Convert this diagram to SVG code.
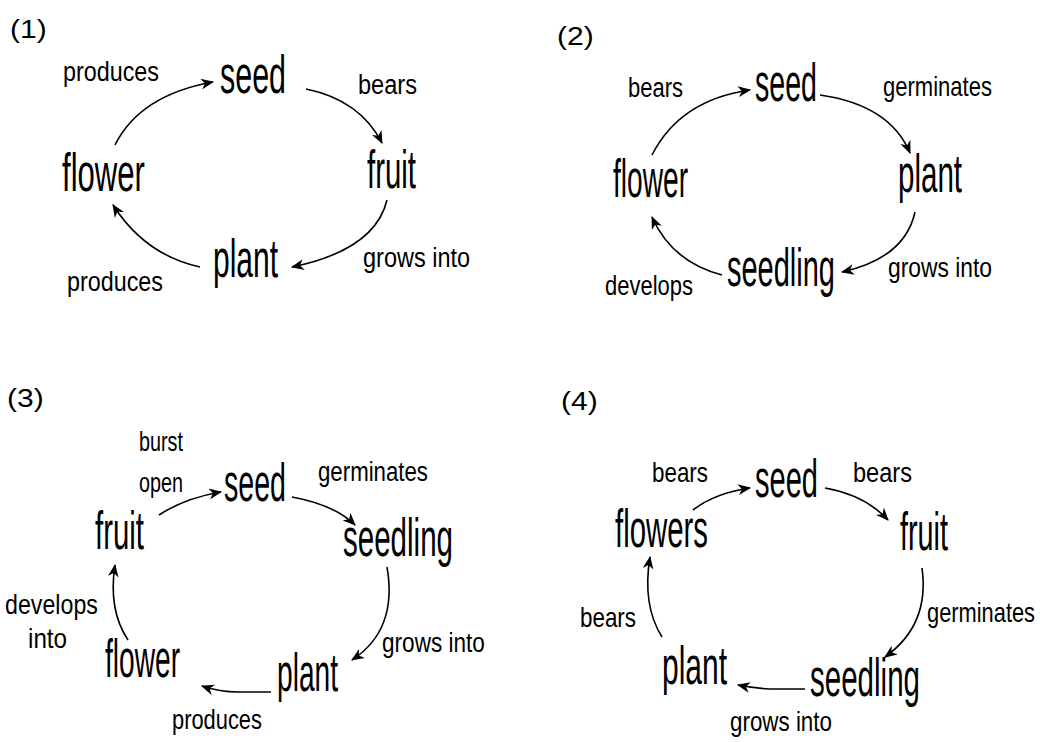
<svg xmlns="http://www.w3.org/2000/svg" width="1040" height="742" viewBox="0 0 1040 742">
<defs>
<marker id="ah" viewBox="0 0 12 10" refX="11" refY="5" markerWidth="13" markerHeight="11" markerUnits="userSpaceOnUse" orient="auto">
<path d="M0,0 L12,5 L0,10 L3.5,5 Z" fill="#000"/>
</marker>
<style>
.n{font-family:"Liberation Sans",Arial,sans-serif;font-size:54px;fill:#000}
.l{font-family:"Liberation Sans",Arial,sans-serif;font-size:27px;fill:#000}
.h{font-family:"Liberation Sans",Arial,sans-serif;font-size:25px;fill:#000}
.c{fill:none;stroke:#000;stroke-width:1.6;marker-end:url(#ah)}
</style>
</defs>
<rect width="1040" height="742" fill="#fff"/>

<!-- Panel 1 -->
<g id="p1">
<text class="h" transform="translate(10,38) scale(1.2,1)">(1)</text>
<g id="p1-seed"><text class="n" transform="translate(220,93) scale(0.564,1)">seed</text></g>
<g id="p1-fruit"><text class="n" transform="translate(367,188) scale(0.544,1)">fruit</text></g>
<g id="p1-plant"><text class="n" transform="translate(213,277) scale(0.555,1)">plant</text></g>
<g id="p1-flower"><text class="n" transform="translate(62,191) scale(0.576,1)">flower</text></g>
<g id="p1-connectors">
<path class="c" d="M115,145 Q140,95 213,82"/>
<path class="c" d="M306,89 Q360,100 382,143"/>
<path class="c" d="M387,200 Q375,250 292,267"/>
<path class="c" d="M200,267 Q145,255 113,205"/>
</g>
<g id="p1-labels">
<text class="l" transform="translate(63,81) scale(0.864,1)">produces</text>
<text class="l" transform="translate(358,94) scale(0.874,1)">bears</text>
<text class="l" transform="translate(363,267) scale(0.87,1)">grows into</text>
<text class="l" transform="translate(67,291) scale(0.864,1)">produces</text>
</g>
</g>

<!-- Panel 2 -->
<g id="p2">
<text class="h" transform="translate(557,45) scale(1.2,1)">(2)</text>
<g id="p2-seed"><text class="n" transform="translate(755,101) scale(0.529,1)">seed</text></g>
<g id="p2-plant"><text class="n" transform="translate(898,192) scale(0.547,1)">plant</text></g>
<g id="p2-seedling"><text class="n" transform="translate(727,286) scale(0.537,1)">seedling</text></g>
<g id="p2-flower"><text class="n" transform="translate(613,197) scale(0.521,1)">flower</text></g>
<g id="p2-connectors">
<path class="c" d="M652,155 Q680,100 750,90"/>
<path class="c" d="M820,95 Q890,105 910,153"/>
<path class="c" d="M915,212 Q905,258 842,272"/>
<path class="c" d="M722,275 Q672,262 652,217"/>
</g>
<g id="p2-labels">
<text class="l" transform="translate(628,97) scale(0.815,1)">bears</text>
<text class="l" transform="translate(883,96) scale(0.816,1)">germinates</text>
<text class="l" transform="translate(888,277) scale(0.846,1)">grows into</text>
<text class="l" transform="translate(605,295) scale(0.814,1)">develops</text>
</g>
</g>

<!-- Panel 3 -->
<g id="p3">
<text class="h" transform="translate(7,407) scale(1.2,1)">(3)</text>
<g id="p3-seed"><text class="n" transform="translate(224,501) scale(0.529,1)">seed</text></g>
<g id="p3-seedling"><text class="n" transform="translate(343,556) scale(0.547,1)">seedling</text></g>
<g id="p3-plant"><text class="n" transform="translate(277,691) scale(0.521,1)">plant</text></g>
<g id="p3-flower"><text class="n" transform="translate(105,677) scale(0.521,1)">flower</text></g>
<g id="p3-fruit"><text class="n" transform="translate(95,549) scale(0.544,1)">fruit</text></g>
<g id="p3-connectors">
<path class="c" d="M159,515 Q185,498 221,492"/>
<path class="c" d="M292,497 Q335,505 355,525"/>
<path class="c" d="M387,567 Q398,630 352,660"/>
<path class="c" d="M271,692 L238,692 Q220,692 202,686"/>
<path class="c" d="M128,640 Q108,610 115,565"/>
</g>
<g id="p3-labels">
<text class="l" transform="translate(139,451) scale(0.733,1)">burst</text>
<text class="l" transform="translate(139,492) scale(0.733,1)">open</text>
<text class="l" transform="translate(318,481) scale(0.824,1)">germinates</text>
<text class="l" transform="translate(382,652) scale(0.837,1)">grows into</text>
<text class="l" transform="translate(172,729) scale(0.81,1)">produces</text>
<text class="l" transform="translate(5,614) scale(0.86,1)">develops</text>
<text class="l" transform="translate(28,648) scale(0.897,1)">into</text>
</g>
</g>

<!-- Panel 4 -->
<g id="p4">
<text class="h" transform="translate(561,410) scale(1.2,1)">(4)</text>
<g id="p4-seed"><text class="n" transform="translate(755,497) scale(0.538,1)">seed</text></g>
<g id="p4-fruit"><text class="n" transform="translate(900,550) scale(0.533,1)">fruit</text></g>
<g id="p4-seedling"><text class="n" transform="translate(810,696) scale(0.547,1)">seedling</text></g>
<g id="p4-plant"><text class="n" transform="translate(662,684) scale(0.555,1)">plant</text></g>
<g id="p4-flowers"><text class="n" transform="translate(615,547) scale(0.544,1)">flowers</text></g>
<g id="p4-connectors">
<path class="c" d="M693,510 Q715,493 750,488"/>
<path class="c" d="M825,488 Q865,495 888,520"/>
<path class="c" d="M922,568 Q930,625 885,657"/>
<path class="c" d="M805,689 L770,689 Q752,688 738,685"/>
<path class="c" d="M662,637 Q642,605 650,557"/>
</g>
<g id="p4-labels">
<text class="l" transform="translate(652,482) scale(0.83,1)">bears</text>
<text class="l" transform="translate(853,482) scale(0.874,1)">bears</text>
<text class="l" transform="translate(580,627) scale(0.83,1)">bears</text>
<text class="l" transform="translate(927,622) scale(0.809,1)">germinates</text>
<text class="l" transform="translate(730,731) scale(0.829,1)">grows into</text>
</g>
</g>
</svg>
